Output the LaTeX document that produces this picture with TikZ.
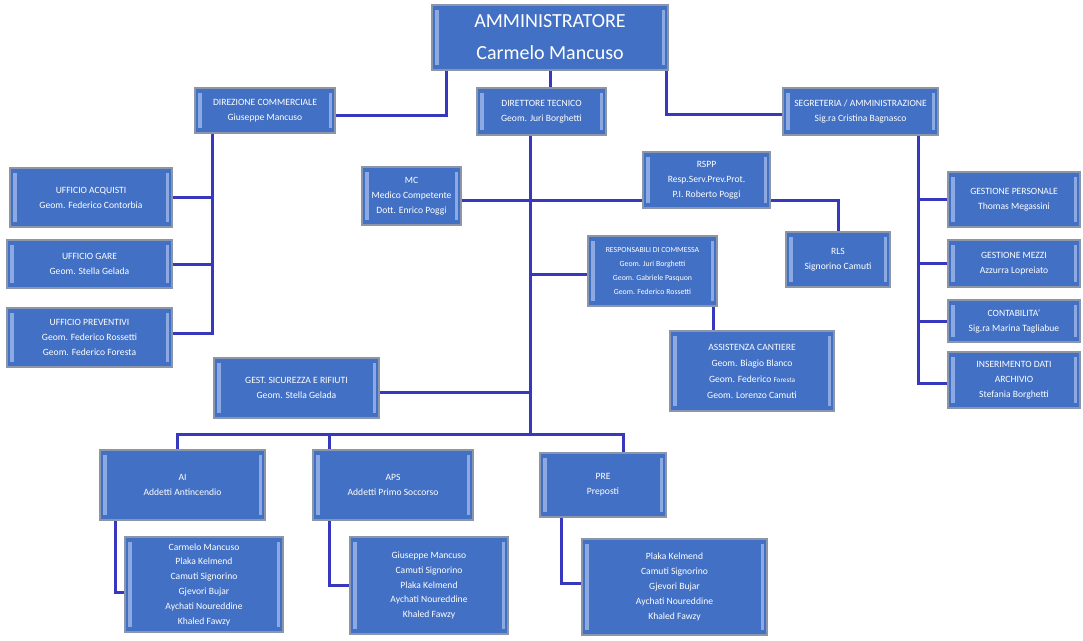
\documentclass[tikz,border=0pt]{standalone}
\usepackage{fontspec}
\setmainfont{Carlito}
\definecolor{boxblue}{RGB}{66,112,196}
\definecolor{boxedge}{RGB}{140,150,170}
\definecolor{connblue}{RGB}{56,56,190}
\definecolor{stripeblue}{RGB}{140,170,225}
\tikzset{
  box/.style={fill=boxblue, draw=boxedge, line width=1.6pt, text=white, align=center, inner sep=0pt,
    font=\fontsize{9.6}{15}\selectfont,
    path picture={
      \fill[stripeblue] ([shift={(3pt,-5pt)}]path picture bounding box.north west) rectangle ([shift={(6.5pt,5pt)}]path picture bounding box.south west);
      \fill[stripeblue] ([shift={(-3pt,-5pt)}]path picture bounding box.north east) rectangle ([shift={(-6.5pt,5pt)}]path picture bounding box.south east);
    }},
  conn/.style={draw=connblue, line width=3pt, line join=miter},
  smalltext/.style={font=\fontsize{7.8}{13.7}\selectfont},
  bigtext/.style={font=\fontsize{20}{32}\selectfont}
}
\newcommand\orgbox[7][]{\node[box,#1,minimum width={#5-#3},minimum height={#6-#4}] (#2) at ({(#3+#5)/2},{(#4+#6)/2}) {#7};}
\begin{document}
\begin{tikzpicture}[x=1pt,y=-1pt]
\useasboundingbox[fill=white] (0,0) rectangle (1083,640);
% boxes
\orgbox[bigtext]{amm}{432}{5}{668}{70}{AMMINISTRATORE\\Carmelo Mancuso}
\orgbox{dc}{195}{88}{335}{133}{DIREZIONE COMMERCIALE\\Giuseppe Mancuso}
\orgbox{dt}{477}{88}{606}{135}{DIRETTORE TECNICO\\Geom. Juri Borghetti}
\orgbox{seg}{783}{88}{938}{135}{SEGRETERIA / AMMINISTRAZIONE\\Sig.ra Cristina Bagnasco}
\orgbox{ua}{10}{168}{172}{227}{UFFICIO ACQUISTI\\Geom. Federico Contorbia}
\orgbox{ug}{7}{240}{172}{288}{UFFICIO GARE\\Geom. Stella Gelada}
\orgbox{up}{7}{308}{172}{367}{UFFICIO PREVENTIVI\\Geom. Federico Rossetti\\Geom. Federico Foresta}
\orgbox{mc}{362}{167}{461}{225}{MC\\Medico Competente\\Dott. Enrico Poggi}
\orgbox{rspp}{643}{152}{770}{208}{RSPP\\Resp.Serv.Prev.Prot.\\P.I. Roberto Poggi}
\orgbox{rls}{786}{232}{890}{287}{RLS\\Signorino Camuti}
\orgbox[smalltext]{rdc}{588}{236}{717}{306}{RESPONSABILI DI COMMESSA\\Geom. Juri Borghetti\\Geom. Gabriele Pasquon\\Geom. Federico Rossetti}
\orgbox[font=\fontsize{9.6}{16}\selectfont]{asc}{670}{331}{834}{411}{ASSISTENZA CANTIERE\\Geom. Biagio Blanco\\Geom. Federico {\fontsize{7.2}{8}\selectfont Foresta}\\Geom. Lorenzo Camuti}
\orgbox{gs}{214}{358}{379}{418}{GEST. SICUREZZA E RIFIUTI\\Geom. Stella Gelada}
\orgbox{ai}{100}{450}{265}{520}{AI\\Addetti Antincendio}
\orgbox{aps}{313}{450}{473}{520}{APS\\Addetti Primo Soccorso}
\orgbox{pre}{540}{453}{666}{517}{PRE\\Preposti}
\orgbox[font=\fontsize{9.6}{14.8}\selectfont]{ail}{125}{537}{283}{632}{Carmelo Mancuso\\Plaka Kelmend\\Camuti Signorino\\Gjevori Bujar\\Aychati Noureddine\\Khaled Fawzy}
\orgbox[font=\fontsize{9.6}{14.6}\selectfont]{apsl}{350}{537}{508}{634}{Giuseppe Mancuso\\Camuti Signorino\\Plaka Kelmend\\Aychati Noureddine\\Khaled Fawzy}
\orgbox[font=\fontsize{9.6}{15.2}\selectfont]{prel}{582}{539}{767}{635}{Plaka Kelmend\\Camuti Signorino\\Gjevori Bujar\\Aychati Noureddine\\Khaled Fawzy}
\orgbox{gp}{948}{172}{1080}{227}{GESTIONE PERSONALE\\Thomas Megassini}
\orgbox{gm}{948}{240}{1080}{287}{GESTIONE MEZZI\\Azzurra Lopreiato}
\orgbox{con}{948}{300}{1080}{342}{CONTABILITA'\\Sig.ra Marina Tagliabue}
\orgbox{ins}{948}{352}{1080}{408}{INSERIMENTO DATI\\ARCHIVIO\\Stefania Borghetti}
% junction
\coordinate (j) at (530,434);
% connectors
\draw[conn] ([xshift=15pt]amm.south west) |- ([yshift=-5pt]dc.east);
\draw[conn] (amm.south) -- (amm.south |- dt.north);
\draw[conn] ([xshift=-2pt]amm.south east) |- ([yshift=-3pt]seg.west);
\draw[conn] (dt.south -| j) -- (j);
\draw[conn] ([yshift=-4pt]mc.east) -- ([yshift=-4pt]mc.east -| rspp.west);
\draw[conn] ([yshift=-4pt]rspp.east |- mc.east) -| (rls.north);
\draw[conn] ([yshift=-3pt]rdc.west -| j) -- ([yshift=-3pt]rdc.west);
\draw[conn] ([xshift=-4pt]rdc.south east) -- ([xshift=-4pt]rdc.south east |- asc.north);
\draw[conn] ([yshift=-4pt]gs.east) -- ([yshift=-4pt]gs.east -| j);
\draw[conn] ([xshift=-5.5pt]ai.north) |- (j) -| ([xshift=20pt]pre.north);
\draw[conn] ([xshift=17pt]aps.north west) -- ([xshift=17pt]aps.north west |- j);
\draw[conn] ([xshift=16pt]ai.south west) |- ([yshift=-8pt]ail.west);
\draw[conn] ([xshift=17pt]aps.south west) |- (apsl.west);
\draw[conn] ([xshift=22pt]pre.south west) |- ([yshift=4pt]prel.west);
\draw[conn] ([xshift=18pt]dc.south west) |- ([yshift=4pt]up.east);
\draw[conn] (ua.east) -- (ua.east -| dc.south west) -- ++(18pt,0);
\draw[conn] (ug.east) -- ++(41pt,0);
\draw[conn] ([xshift=-20pt]seg.south east) |- ([yshift=-3pt]ins.west);
\draw[conn] (gp.west) -- ++(-30pt,0);
\draw[conn] (gm.west) -- ++(-30pt,0);
\draw[conn] (con.west) -- ++(-30pt,0);
\end{tikzpicture}
\end{document}
